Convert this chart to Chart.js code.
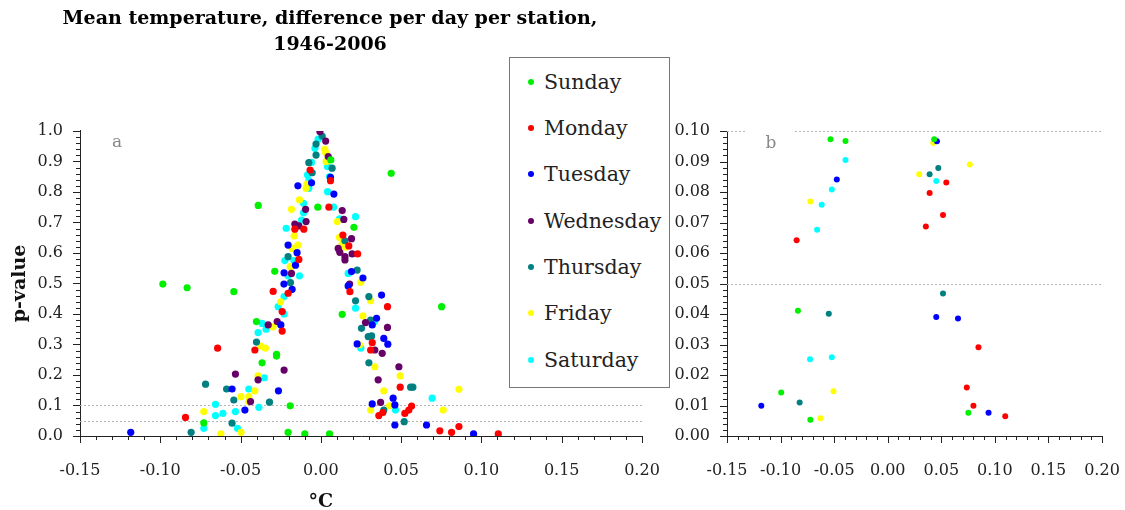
<!DOCTYPE html>
<html>
<head>
<meta charset="utf-8">
<script src="https://cdn.jsdelivr.net/npm/chart.js@4.4.1/dist/chart.umd.min.js"></script>
<style>
    body { margin: 0; background: #fff; }
    #wrap { position: relative; width: 1125px; height: 510px; overflow: hidden; }
    #chartA { position: absolute; left: 0; top: 0; }
    #chartB { position: absolute; left: 660px; top: 0; }
    #legend {
        position: absolute; left: 509px; top: 57px; width: 161px; height: 331px;
        box-sizing: border-box; border: 1.5px solid #777; background: #fff;
        font-family: 'DejaVu Serif', serif; font-size: 20.5px; color: #222;
    }
    .row { position: absolute; left: 0; height: 24px; line-height: 24px; white-space: nowrap; }
    .dot { position: absolute; left: 18px; top: 9px; width: 6px; height: 6px; border-radius: 50%; }
    .lbl { position: absolute; left: 34px; top: 0; }
</style>
</head>
<body>
<div id="wrap">
    <canvas id="chartA" width="660" height="510"></canvas>
    <canvas id="chartB" width="465" height="510"></canvas>
    <div id="legend"></div>
</div>
<script>
const days = ['Sunday', 'Monday', 'Tuesday', 'Wednesday', 'Thursday', 'Friday', 'Saturday'];
const dayColors = ['#00f000', '#ff0000', '#0000ff', '#660066', '#008080', '#ffff00', '#00ffff'];

const titleLines = ['Mean temperature, difference per day per station,', '1946-2006'];
const xTitle = '°C';
const yTitle = 'p-value';

const xTicks = [-0.15, -0.10, -0.05, 0.00, 0.05, 0.10, 0.15, 0.20];
const yTicksA = [0.0, 0.1, 0.2, 0.3, 0.4, 0.5, 0.6, 0.7, 0.8, 0.9, 1.0];
const yTicksB = [0.00, 0.01, 0.02, 0.03, 0.04, 0.05, 0.06, 0.07, 0.08, 0.09, 0.10];
const refLines = [0.1, 0.05];

// panel a: [difference, p-value]
const sundayA = [[0.0438, 0.861], [-0.039, 0.756], [-0.0019, 0.750], [0.0062, 0.905], [0.0206, 0.684],
    [-0.0287, 0.540], [-0.0984, 0.498], [-0.0833, 0.486], [-0.0542, 0.473], [-0.0401, 0.375],
    [-0.0276, 0.268], [-0.0276, 0.262], [-0.0366, 0.240], [-0.0191, 0.099], [-0.0729, 0.043],
    [-0.0204, 0.012], [-0.010, 0.007], [0.0054, 0.007], [0.0752, 0.424], [0.0133, 0.399]];
const mondayA = [[-0.0067, 0.872], [0.006, 0.837], [0.005, 0.750], [-0.0162, 0.678], [-0.0106, 0.678],
    [0.0137, 0.659], [0.0174, 0.623], [0.0229, 0.597], [-0.0137, 0.579], [-0.0297, 0.474],
    [-0.0204, 0.468], [-0.0241, 0.408], [-0.0241, 0.344], [-0.0643, 0.288], [-0.0411, 0.282],
    [-0.0843, 0.061], [0.0181, 0.473], [0.0415, 0.424], [0.032, 0.306], [0.031, 0.282],
    [0.0494, 0.160], [0.0565, 0.098], [0.0548, 0.085], [0.0523, 0.074], [0.0361, 0.067],
    [0.0386, 0.077], [0.0741, 0.017], [0.0814, 0.012], [0.086, 0.031], [0.1105, 0.007]];
const tuesdayA = [[0.006, 0.848], [-0.0058, 0.830], [-0.0143, 0.820], [0.0081, 0.793], [-0.0204, 0.626],
    [-0.0148, 0.601], [-0.0158, 0.560], [-0.0229, 0.535], [0.0191, 0.539], [0.0262, 0.518],
    [-0.023, 0.498], [-0.0179, 0.481], [-0.0249, 0.364], [-0.0553, 0.154], [-0.0264, 0.148],
    [-0.0473, 0.085], [-0.1184, 0.012], [0.017, 0.492], [0.0378, 0.462], [0.0347, 0.386],
    [0.032, 0.364], [0.0392, 0.320], [0.0417, 0.301], [0.0226, 0.302], [0.045, 0.124],
    [0.032, 0.105], [0.0461, 0.102], [0.0461, 0.036], [0.0658, 0.036], [0.0951, 0.007]];
const wednesdayA = [[-0.0006, 0.998], [0.003, 0.967], [0.0046, 0.916], [-0.0095, 0.743], [0.0133, 0.739],
    [0.0143, 0.710], [-0.0092, 0.703], [-0.0162, 0.695], [-0.0137, 0.689], [0.0191, 0.647],
    [0.0108, 0.615], [0.0118, 0.602], [0.015, 0.588], [0.015, 0.577], [0.0195, 0.597],
    [-0.0183, 0.533], [0.0179, 0.498], [-0.0328, 0.364], [-0.0272, 0.375], [-0.0229, 0.216],
    [-0.0532, 0.203], [-0.0391, 0.184], [-0.0438, 0.113], [0.0278, 0.372], [0.0415, 0.356],
    [0.0336, 0.282], [0.0382, 0.271], [0.0486, 0.227], [0.0357, 0.184], [0.0372, 0.110]];
const thursdayA = [[0.0008, 0.983], [-0.003, 0.957], [-0.003, 0.921], [-0.0075, 0.896], [0.007, 0.878],
    [-0.0054, 0.863], [0.015, 0.640], [-0.0204, 0.588], [0.0226, 0.544], [-0.0189, 0.503],
    [-0.0401, 0.308], [-0.0718, 0.170], [-0.0587, 0.154], [-0.0542, 0.118], [-0.032, 0.111],
    [-0.0553, 0.042], [-0.0808, 0.012], [0.0299, 0.457], [0.0216, 0.443], [0.031, 0.380],
    [0.0253, 0.353], [0.0295, 0.326], [0.0316, 0.328], [0.0299, 0.240], [0.0559, 0.160],
    [0.0573, 0.160], [0.0392, 0.085], [0.0519, 0.047]];
const fridayA = [[0.0025, 0.940], [0.003, 0.929], [0.0033, 0.900], [-0.0087, 0.826], [-0.0092, 0.812],
    [-0.0133, 0.774], [-0.0183, 0.743], [0.0102, 0.703], [-0.0166, 0.656], [0.0116, 0.651],
    [0.0133, 0.630], [0.0154, 0.619], [-0.0143, 0.626], [-0.0179, 0.615], [-0.0191, 0.555],
    [-0.0251, 0.440], [-0.0297, 0.358], [-0.0376, 0.295], [-0.0345, 0.288], [-0.0391, 0.197],
    [-0.0411, 0.148], [-0.0497, 0.129], [-0.0449, 0.129], [-0.0449, 0.113], [-0.0729, 0.080],
    [-0.0623, 0.007], [-0.0497, 0.012], [0.0249, 0.504], [0.031, 0.443], [0.0262, 0.394],
    [0.0241, 0.299], [0.0336, 0.227], [0.0494, 0.197], [0.0392, 0.148], [0.086, 0.153],
    [0.0428, 0.099], [0.031, 0.085], [0.0762, 0.085]];
const saturdayA = [[-0.0017, 0.973], [-0.0037, 0.943], [-0.0058, 0.897], [0.0042, 0.883], [-0.0083, 0.856],
    [0.0054, 0.850], [-0.0075, 0.837], [-0.0075, 0.812], [0.0042, 0.801], [-0.0108, 0.763],
    [0.0079, 0.750], [-0.0108, 0.732], [0.0216, 0.719], [0.0116, 0.712], [-0.012, 0.708],
    [-0.0216, 0.681], [-0.0224, 0.575], [-0.0168, 0.575], [-0.0204, 0.525], [-0.0133, 0.525],
    [0.017, 0.533], [-0.0229, 0.457], [-0.0266, 0.424], [-0.0229, 0.400], [-0.0366, 0.369],
    [-0.0341, 0.350], [-0.0391, 0.339], [-0.0353, 0.191], [-0.0449, 0.154], [-0.0656, 0.104],
    [-0.0386, 0.094], [-0.0532, 0.080], [-0.061, 0.074], [-0.0656, 0.067], [-0.0729, 0.025],
    [-0.0519, 0.025], [0.0216, 0.419], [0.0335, 0.375], [0.0249, 0.288], [0.0693, 0.124],
    [0.0465, 0.085]];

// panel b: p < 0.1 only
const sundayB = [[-0.0534, 0.0973], [-0.0394, 0.0967], [0.0434, 0.0973], [-0.0838, 0.0411],
    [-0.0994, 0.0143], [-0.0722, 0.0053], [0.0753, 0.0076]];
const mondayB = [[-0.085, 0.0642], [0.0547, 0.0831], [0.0391, 0.0797], [0.0516, 0.0725], [0.0356, 0.0687],
    [0.0847, 0.0291], [0.0738, 0.0159], [0.080, 0.0099], [0.1097, 0.0065]];
const tuesdayB = [[-0.0475, 0.0841], [0.0459, 0.0966], [-0.118, 0.0099], [0.0453, 0.0390],
    [0.0656, 0.0385], [0.0941, 0.0076]];
const wednesdayB = [];
const thursdayB = [[0.0391, 0.0858], [0.0472, 0.0879], [0.0516, 0.0467], [-0.055, 0.0401], [-0.0822, 0.0110]];
const fridayB = [[-0.0722, 0.0769], [0.0425, 0.0961], [0.0766, 0.0890], [0.0294, 0.0858],
    [-0.0506, 0.0147], [-0.0628, 0.0058]];
const saturdayB = [[-0.0394, 0.0905], [-0.0522, 0.0808], [-0.0616, 0.0758], [-0.0659, 0.0676],
    [0.0453, 0.0836], [-0.0725, 0.0252], [-0.0522, 0.0258]];

const serif = 'DejaVu Serif';

// dotted reference lines, panel letter, tick marks (major + minor)
const axisMarks = {
    id: 'axisMarks',
    beforeDatasetsDraw(chart, args, opts) {
        const { ctx, chartArea: ca, scales: { x, y } } = chart;
        ctx.save();
        ctx.strokeStyle = '#b4b4b4';
        ctx.lineWidth = 1;
        ctx.setLineDash([2, 2]);
        refLines.forEach(v => {
            const py = Math.round(y.getPixelForValue(v)) + 0.5;
            ctx.beginPath();
            ctx.moveTo(ca.left, py);
            ctx.lineTo(ca.right, py);
            ctx.stroke();
        });
        ctx.setLineDash([]);
        ctx.fillStyle = '#fff';
        ctx.fillRect(ca.left + opts.box[0], ca.top + opts.box[1], opts.box[2], opts.box[3]);
        ctx.fillStyle = '#888';
        ctx.font = `17px '${serif}'`;
        ctx.textAlign = 'center';
        ctx.textBaseline = 'middle';
        ctx.fillText(opts.letter, ca.left + opts.letterPos[0], ca.top + opts.letterPos[1]);
        ctx.restore();
    },
    afterDraw(chart, args, opts) {
        const { ctx, chartArea: ca, scales: { x, y } } = chart;
        ctx.save();
        ctx.strokeStyle = '#222';
        ctx.lineWidth = 1;
        const marks = (scale, major, minor, draw) => {
            const n = Math.round((scale.max - scale.min) / minor);
            for (let i = 0; i <= n; i++) {
                const v = scale.min + i * minor;
                const r = v / major;
                const isMajor = Math.abs(r - Math.round(r)) < 1e-6;
                draw(Math.round(scale.getPixelForValue(v)) + 0.5, isMajor ? 7 : 4);
            }
        };
        marks(x, opts.xStep[0], opts.xStep[1], (px, len) => {
            ctx.beginPath(); ctx.moveTo(px, ca.bottom); ctx.lineTo(px, ca.bottom + len); ctx.stroke();
        });
        marks(y, opts.yStep[0], opts.yStep[1], (py, len) => {
            ctx.beginPath(); ctx.moveTo(ca.left, py); ctx.lineTo(ca.left - len, py); ctx.stroke();
        });
        if (opts.xTitle) {
            ctx.fillStyle = '#111';
            ctx.font = `bold 19px '${serif}'`;
            ctx.textAlign = 'center';
            ctx.textBaseline = 'middle';
            ctx.fillText(opts.xTitle, x.getPixelForValue(0), 502);
        }
        ctx.restore();
    }
};

function makeSets(series, radius) {
    return series.map((d, i) => ({
        label: days[i],
        data: d.map(([x, y]) => ({ x, y })),
        backgroundColor: dayColors[i],
        borderColor: dayColors[i],
        pointRadius: radius,
        pointHoverRadius: radius,
        pointBorderWidth: 0
    }));
}

function makeOptions(cfg) {
    return {
        responsive: false,
        animation: false,
        layout: { padding: cfg.padding },
        plugins: {
            legend: { display: false },
            tooltip: { enabled: false },
            title: cfg.title,
            axisMarks: cfg.marks
        },
        scales: {
            x: {
                type: 'linear',
                min: -0.15,
                max: 0.20,
                afterBuildTicks: s => { s.ticks = xTicks.map(v => ({ value: v })); },
                afterFit: s => { s.height = 74; s.paddingLeft = 0; s.paddingRight = 0; },
                grid: { display: false, drawTicks: false },
                border: { display: true, color: '#222', width: 1 },
                ticks: {
                    autoSkip: false, maxRotation: 0, padding: 25,
                    color: '#222', font: { family: serif, size: 16 },
                    callback: v => v.toFixed(2)
                }
            },
            y: {
                type: 'linear',
                min: 0,
                max: cfg.yMax,
                afterBuildTicks: s => { s.ticks = cfg.yTicks.map(v => ({ value: v })); },
                afterFit: s => { s.width = cfg.yWidth; s.paddingTop = 0; s.paddingBottom = 0; },
                grid: { display: false, drawTicks: false },
                border: { display: true, color: '#222', width: 1 },
                title: cfg.yTitle,
                ticks: {
                    autoSkip: false, padding: 17,
                    color: '#222', font: { family: serif, size: 16 },
                    callback: v => v.toFixed(cfg.yDigits)
                }
            }
        }
    };
}

new Chart(document.getElementById('chartA'), {
    type: 'scatter',
    data: { datasets: makeSets([sundayA, mondayA, tuesdayA, wednesdayA, thursdayA, fridayA, saturdayA], 3.6) },
    options: makeOptions({
        padding: { left: 18, right: 18, top: 0, bottom: 0 },
        yMax: 1.0, yTicks: yTicksA, yDigits: 1, yWidth: 62,
        title: {
            display: true,
            text: titleLines,
            color: '#000',
            font: { family: serif, size: 19, weight: 'bold', lineHeight: 1.37 },
            padding: { top: 6, bottom: 72.9 }
        },
        yTitle: {
            display: true,
            text: yTitle,
            color: '#111',
            font: { family: serif, size: 19, weight: 'bold', lineHeight: 1 },
            padding: { top: -7.5, bottom: 0 }
        },
        marks: { xStep: [0.05, 0.01], yStep: [0.1, 0.02], letter: 'a', letterPos: [37, 12], box: [10, -8, 50, 45], xTitle: xTitle }
    }),
    plugins: [axisMarks]
});

new Chart(document.getElementById('chartB'), {
    type: 'scatter',
    data: { datasets: makeSets([sundayB, mondayB, tuesdayB, wednesdayB, thursdayB, fridayB, saturdayB], 3) },
    options: makeOptions({
        padding: { left: 0, right: 23, top: 131, bottom: 0 },
        yMax: 0.10, yTicks: yTicksB, yDigits: 2, yWidth: 67,
        title: { display: false },
        yTitle: { display: false },
        marks: { xStep: [0.05, 0.01], yStep: [0.01, 0.002], letter: 'b', letterPos: [44, 13], box: [18, -11, 48, 48], xTitle: null }
    }),
    plugins: [axisMarks]
});

// legend box between the two panels
const legend = document.getElementById('legend');
days.forEach((d, i) => {
    const row = document.createElement('div');
    row.className = 'row';
    row.style.top = (25.3 + i * 46.3 - 13.5) + 'px';
    row.innerHTML = `<span class="dot" style="background:${dayColors[i]}"></span><span class="lbl">${d}</span>`;
    legend.appendChild(row);
});
</script>
</body>
</html>
